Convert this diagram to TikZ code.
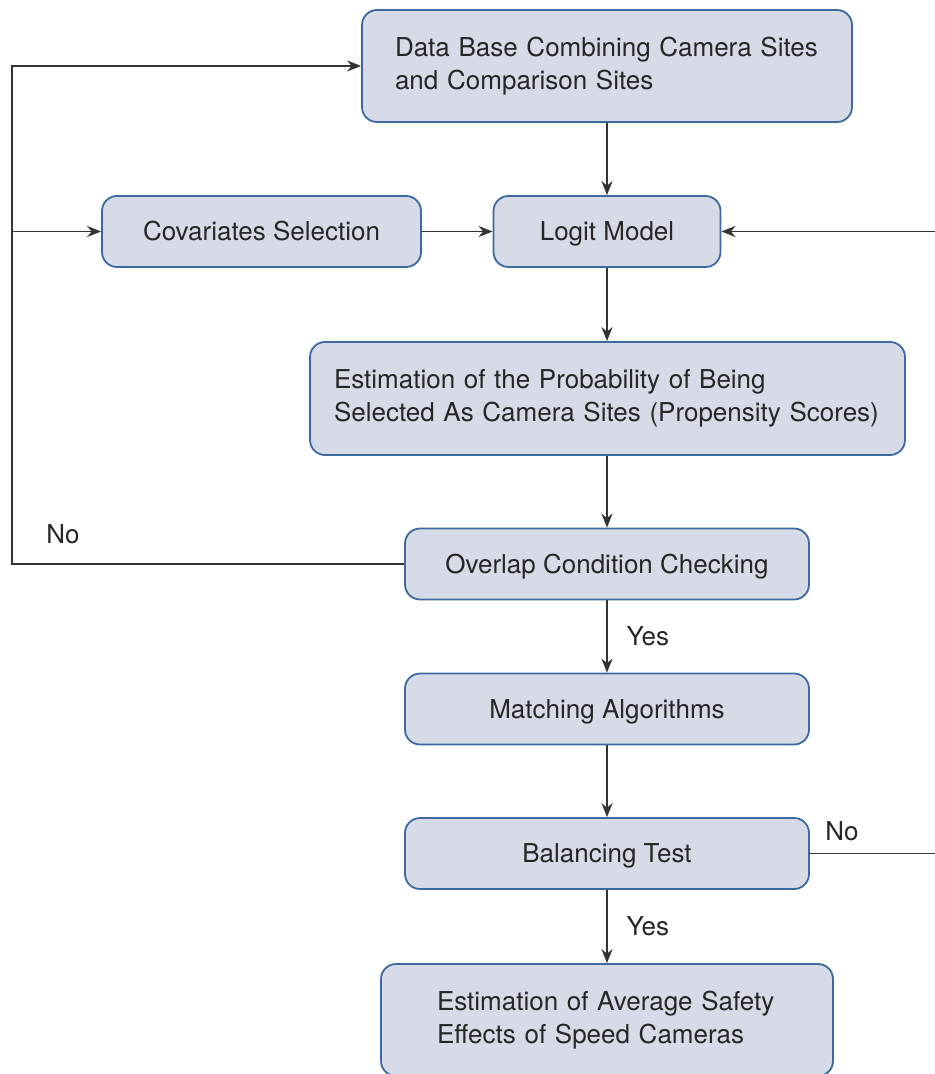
\documentclass[tikz,border=0pt]{standalone}
\usepackage{fontspec}
\setmainfont{TeX Gyre Heros}
\usetikzlibrary{arrows.meta}
\definecolor{boxfill}{HTML}{D6DBE7}
\definecolor{boxline}{HTML}{3D6A9E}
\definecolor{flowline}{HTML}{333333}
\tikzset{
  box/.style={draw=boxline, fill=boxfill, line width=0.9pt, rounded corners=7.5pt,
    minimum height=35.5pt, inner xsep=0pt, text=black!85,
    font=\fontsize{13}{16.5}\selectfont},
  onebox/.style={box, text height=9.6pt, text depth=0.4pt},
  flow/.style={draw=flowline, line width=0.9pt, -{Stealth[length=7pt,width=5.5pt]}},
  plain/.style={draw=flowline, line width=0.9pt},
  lbl/.style={font=\fontsize{13}{16.5}\selectfont, text=black!85}
}
\begin{document}
\begin{tikzpicture}[x=0.5pt, y=-0.5pt]
\useasboundingbox (0,0) rectangle (935,1074);
% boxes
\node[box, align=left, text width=212pt, inner xsep=16.5pt, minimum height=56pt] (db) at (607,66)
  {Data Base Combining Camera Sites\\and Comparison Sites};
\node[onebox, minimum width=159.5pt] (cov) at (261.5,231.5) {Covariates Selection};
\node[onebox, minimum width=113.5pt] (logit) at (607,231.5) {Logit Model};
\node[box, align=left, text width=273.5pt, inner xsep=12pt, minimum height=56.5pt] (prob) at (607.5,398.5)
  {Estimation of the Probability of Being\\Selected As Camera Sites (Propensity Scores)};
\node[onebox, minimum width=202pt] (overlap) at (607,564) {Overlap Condition Checking};
\node[onebox, minimum width=202pt] (match) at (607,709) {Matching Algorithms};
\node[onebox, minimum width=202pt] (bal) at (607,853.5) {Balancing Test};
\node[box, align=left, text width=170pt, inner xsep=28pt, minimum height=56pt] (effect) at (607,1020)
  {Estimation of Average Safety\\Effects of Speed Cameras};

% main flow
\draw[flow] (db) -- (logit);
\draw[flow] (cov) -- (logit);
\draw[flow] (logit) -- (logit |- prob.north);
\draw[flow] (prob.south -| overlap) -- (overlap);
\draw[flow] (overlap) -- node[lbl, right=6pt] (yes1) {Yes} (match);
\draw[flow] (match) -- (bal);
\draw[flow] (bal) -- node[lbl, right=6pt] (yes2) {Yes} (effect);

% loops
\coordinate (loopL) at (12,0);
\coordinate (loopR) at (945,0);
\draw[flow] (overlap.west) -| (loopL |- db.west) -- (db.west);
\draw[flow] (loopL |- cov.west) -- (cov.west);
\draw[plain] (bal.east) -- (loopR |- bal.east);
\draw[flow] (loopR |- logit.east) -- (logit.east);
\node[lbl] (no1) at (63,534) {No};
\node[lbl] (no2) at (842,831) {No};
\end{tikzpicture}
\end{document}
